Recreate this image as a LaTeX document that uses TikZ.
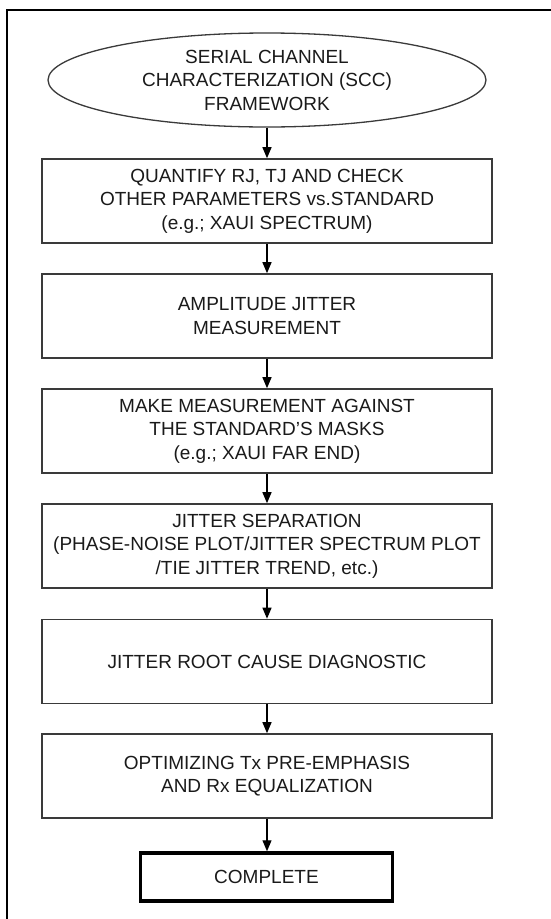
\documentclass[tikz,border=0pt]{standalone}
\usepackage{fontspec}
\setmainfont{Liberation Sans}
\usetikzlibrary{arrows.meta,shapes.geometric}
\definecolor{ink}{HTML}{1A1A1A}
\definecolor{edge}{HTML}{3A3A3A}
\begin{document}
\begin{tikzpicture}[x=1pt,y=-1pt,
  every node/.style={font=\fontsize{19}{23.5}\selectfont, text=ink, align=center, inner sep=0pt},
  stepbox/.style={draw=edge, line width=1.6pt, minimum width=450pt, minimum height=84pt},
  startshape/.style={draw=edge, line width=1.3pt, ellipse, minimum width=438pt, minimum height=94pt},
  endbox/.style={draw=black, line width=3.5pt, minimum width=252pt, minimum height=48pt},
  flow/.style={draw=black, line width=1.2pt, -{Triangle[width=9pt,length=11pt]}}
]
\useasboundingbox (0,0) rectangle (551,919);
\fill[white] (0,0) rectangle (551,919);
\draw[line width=2pt, black] (6.5,919) -- (6.5,10) -- (551,10);

\node[startshape] (s) at (267,80) {SERIAL CHANNEL\\CHARACTERIZATION (SCC)\\FRAMEWORK};
\node[stepbox] (b1) at (267,201) {QUANTIFY RJ, TJ AND CHECK\\OTHER PARAMETERS vs.STANDARD\\(e.g.; XAUI SPECTRUM)};
\node[stepbox] (b2) at (267,316) {AMPLITUDE JITTER\\MEASUREMENT};
\node[stepbox] (b3) at (267,431) {MAKE MEASUREMENT AGAINST\\THE STANDARD'S MASKS\\(e.g.; XAUI FAR END)};
\node[stepbox] (b4) at (267,546) {JITTER SEPARATION\\(PHASE-NOISE PLOT/JITTER SPECTRUM PLOT\\/TIE JITTER TREND, etc.)};
\node[stepbox] (b5) at (267,661.5) {JITTER ROOT CAUSE DIAGNOSTIC};
\node[stepbox] (b6) at (267,776) {OPTIMIZING Tx PRE-EMPHASIS\\AND Rx EQUALIZATION};
\node[endbox] (c) at (266.5,877) {COMPLETE};

\draw[flow] (s) -- (b1);
\draw[flow] (b1) -- (b2);
\draw[flow] (b2) -- (b3);
\draw[flow] (b3) -- (b4);
\draw[flow] (b4) -- (b5);
\draw[flow] (b5) -- (b6);
\draw[flow] (b6.south) -- (b6.south |- c.north);
\end{tikzpicture}
\end{document}
